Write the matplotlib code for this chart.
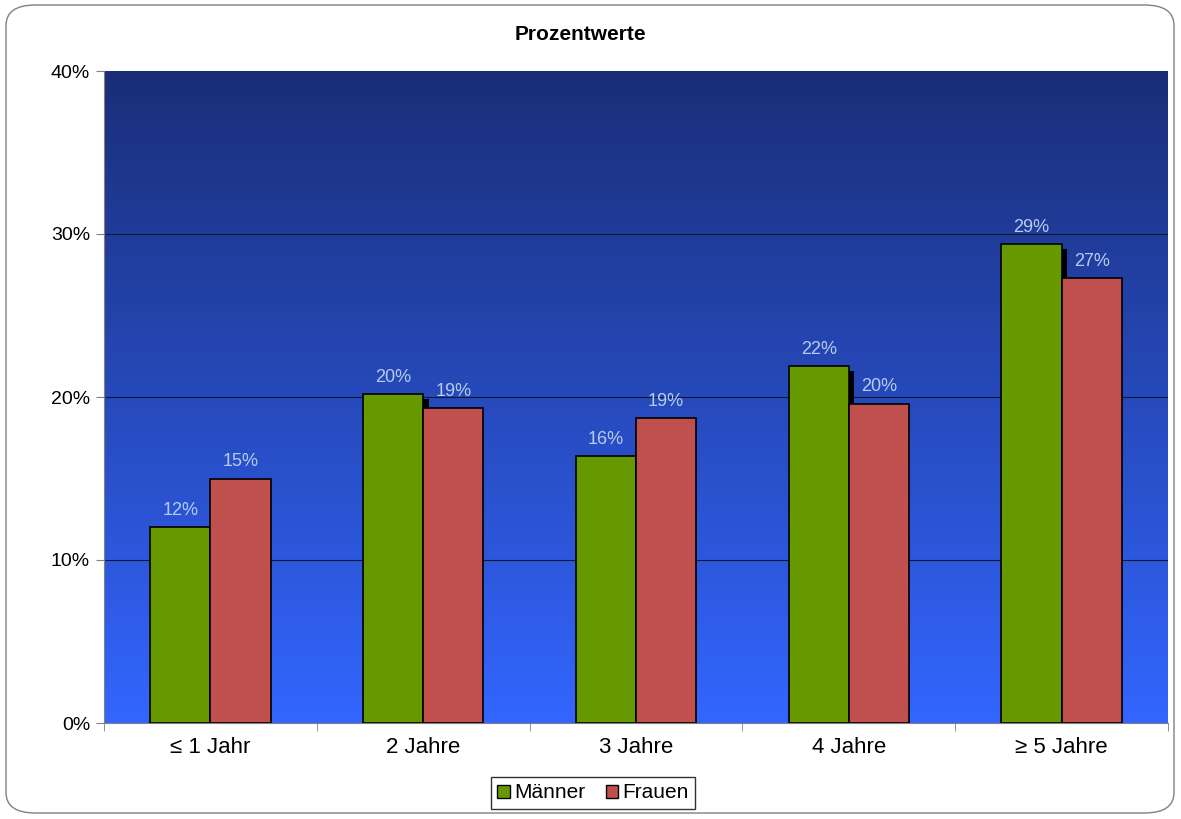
import matplotlib.pyplot as plt
import numpy as np
from matplotlib.patches import FancyBboxPatch, Patch
from matplotlib.colors import LinearSegmentedColormap

plt.rcParams['font.family'] = ['Liberation Sans', 'DejaVu Sans']

categories = ['≤ 1 Jahr', '2 Jahre', '3 Jahre', '4 Jahre', '≥ 5 Jahre']
maenner = [12.0, 20.2, 16.4, 21.9, 29.4]
frauen = [15.0, 19.3, 18.7, 19.6, 27.3]
green = '#669900'
red = '#C0504D'

fig = plt.figure(figsize=(11.81, 8.19), dpi=100)
ax = fig.add_axes([104 / 1181, 1 - 723 / 819, 1064 / 1181, 652 / 819])

# gradient background
grad = np.linspace(0, 1, 256).reshape(-1, 1)
cmap = LinearSegmentedColormap.from_list('bg', ['#3366FF', '#1A2E78'])
ax.imshow(grad, aspect='auto', cmap=cmap, origin='lower',
          extent=[-0.5, 4.5, 0, 40], zorder=0)

x = np.arange(len(categories))
w = 0.283
for v in [10, 20, 30]:
    ax.axhline(v, color='#101830', lw=0.8, zorder=1)

# shadow behind the green bars
ax.bar(x - w / 2 + 0.025, np.array(maenner) - 0.3, w, color='black', zorder=2)
ax.bar(x - w / 2, maenner, w, color=green, edgecolor='black', lw=1.2, zorder=3)
ax.bar(x + w / 2, frauen, w, color=red, edgecolor='black', lw=1.2, zorder=3)

for i in range(len(x)):
    ax.text(x[i] - w / 2, maenner[i] + 0.5, f'{maenner[i]:.0f}%', ha='center',
            va='bottom', color='#B8CCF0', fontsize=13, zorder=4)
    ax.text(x[i] + w / 2, frauen[i] + 0.5, f'{frauen[i]:.0f}%', ha='center',
            va='bottom', color='#B8CCF0', fontsize=13, zorder=4)

ax.set_xlim(-0.5, 4.5)
ax.set_ylim(0, 40)
ax.set_yticks([0, 10, 20, 30, 40])
ax.set_yticklabels(['0%', '10%', '20%', '30%', '40%'], fontsize=14)
ax.set_xticks(x)
ax.set_xticklabels(categories, fontsize=16)
ax.tick_params(axis='x', length=0, pad=10)
ax.set_xticks(np.arange(-0.5, 5, 1), minor=True)
ax.tick_params(axis='x', which='minor', length=6, color='#808080')
ax.tick_params(axis='y', length=6, color='#808080', pad=4)
for s in ['top', 'right']:
    ax.spines[s].set_visible(False)
ax.spines['left'].set_color('#808080')
ax.spines['bottom'].set_color('#808080')

fig.text(580 / 1181, 1 - 35 / 819, 'Prozentwerte', ha='center', va='center',
         fontsize=15, fontweight='bold')

handles = [Patch(facecolor=green, edgecolor='black'),
           Patch(facecolor=red, edgecolor='black')]
leg = fig.legend(handles, ['Männer', 'Frauen'], loc='center',
                 bbox_to_anchor=(593 / 1181, 1 - 793 / 819), ncol=2,
                 fontsize=15, frameon=True, fancybox=False, handlelength=0.6,
                 handleheight=0.6, handletextpad=0.2, columnspacing=1.0,
                 borderpad=0.3)
leg.get_frame().set_edgecolor('black')
leg.get_frame().set_linewidth(1)

border = FancyBboxPatch((6 / 1181, 6 / 819), 1168 / 1181, 808 / 819,
                        boxstyle='round,pad=0,rounding_size=0.025',
                        transform=fig.transFigure, fill=False,
                        edgecolor='#808080', lw=1)
fig.patches.append(border)

fig.savefig('out.png', dpi=100)
